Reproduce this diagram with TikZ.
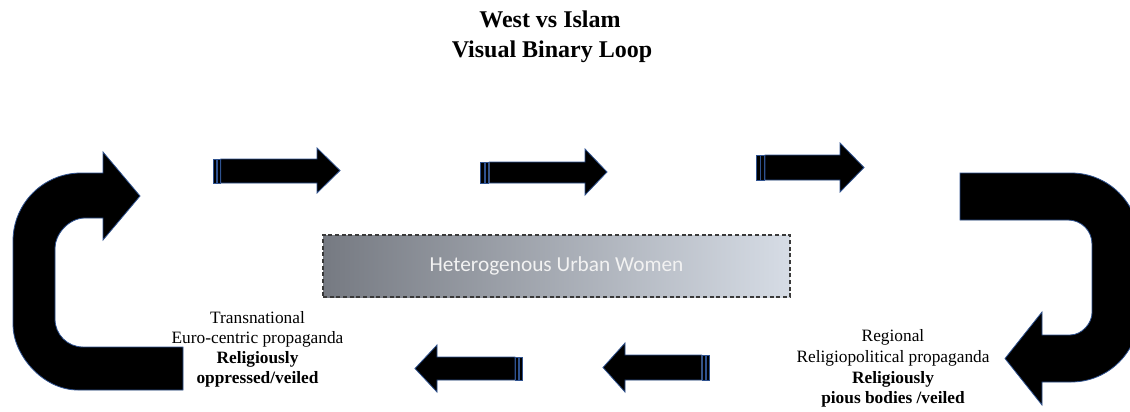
\documentclass[tikz,border=0pt]{standalone}
\usepackage{fontspec}
\setmainfont{Liberation Serif}
\newfontfamily\boxfont{Carlito}
\definecolor{arrowblue}{HTML}{2F528F}
\definecolor{hubdark}{HTML}{767A82}
\definecolor{hublight}{HTML}{D6DCE5}
\definecolor{hubedge}{HTML}{3A3A3A}
\begin{document}
\begin{tikzpicture}[x=0.75pt,y=-0.75pt,
  blockarrow/.style={fill=black, draw=arrowblue, line width=0.6pt, line join=miter},
  stripebar/.style={fill=black, draw=arrowblue, line width=0.5pt},
  lbl/.style={anchor=base, inner sep=0pt, font=\fontsize{13}{15}\selectfont},
  lblb/.style={anchor=base, inner sep=0pt, font=\fontsize{13}{15}\selectfont\bfseries},
  ttl/.style={anchor=base, inner sep=0pt, font=\fontsize{18}{22}\selectfont\bfseries},
  hubbox/.style={draw=hubedge, line width=0.8pt, dash pattern=on 3pt off 2pt,
    left color=hubdark, right color=hublight, text=white!95!black,
    font=\boxfont\fontsize{16}{19}\selectfont,
    minimum width=350.25pt, minimum height=46.5pt, inner sep=0pt}
]
% canvas
\fill[white] (0,0) rectangle (1130,411);
\useasboundingbox (0,0) rectangle (1130,411);
\clip (0,0) rectangle (1130,411);

% title
\node[ttl] (title1) at (550,27) {West vs Islam};
\node[ttl] (title2) at (552,57) {Visual Binary Loop};

% left U-turn arrow (bottom back up to the top row)
\draw[blockarrow]
  (183,390) -- (78,390)
  .. controls (42.1,390) and (13,354.1) .. (13,325)
  -- (13,241)
  .. controls (13,203.4) and (43.4,173) .. (81,173)
  -- (103,173) -- (103,152) -- (140,196) -- (103,240) -- (103,218)
  -- (85,218)
  .. controls (68.4,218) and (55,234.6) .. (55,248)
  -- (55,319)
  .. controls (55,334.5) and (67.5,347) .. (83,347)
  -- (183,347) -- cycle;

% right U-turn arrow (top row down to the bottom row)
\draw[blockarrow]
  (960,173) -- (1071,173)
  .. controls (1108.6,173) and (1139,203.4) .. (1139,241)
  -- (1139,314)
  .. controls (1139,351.6) and (1108.6,382) .. (1071,382)
  -- (1042,382) -- (1042,405) -- (1005,358.5) -- (1042,312) -- (1042,335)
  -- (1070,335)
  .. controls (1082.2,335) and (1092,322.8) .. (1092,313)
  -- (1092,244)
  .. controls (1092,230.7) and (1081.3,220) .. (1068,220)
  -- (960,220) -- cycle;

% top row, striped arrows pointing right
\draw[blockarrow] (220.7,159) -- (317,159) -- (317,148) -- (340,170.5) -- (317,193) -- (317,183) -- (220.7,183) -- cycle;
\draw[stripebar] (213.3,159) rectangle (216.7,183);
\draw[stripebar] (217.3,159) rectangle (220,183);

\draw[blockarrow] (489.3,162) -- (585,162) -- (585,149) -- (607,172) -- (585,195) -- (585,183) -- (489.3,183) -- cycle;
\draw[stripebar] (480.7,162) rectangle (484,183);
\draw[stripebar] (485,162) rectangle (488.3,183);

\draw[blockarrow] (765,155) -- (840,155) -- (840,143) -- (864,167.5) -- (840,192) -- (840,180) -- (765,180) -- cycle;
\draw[stripebar] (756.7,155) rectangle (760,180);
\draw[stripebar] (760.7,155) rectangle (764,180);

% bottom row, striped arrows pointing left
\draw[blockarrow] (515,357) -- (437,357) -- (437,345) -- (415,368.5) -- (437,392) -- (437,380) -- (515,380) -- cycle;
\draw[stripebar] (515.7,357) rectangle (518,380);
\draw[stripebar] (519,357) rectangle (522,380);

\draw[blockarrow] (701.7,355) -- (625,355) -- (625,343) -- (603,367.5) -- (625,392) -- (625,380) -- (701.7,380) -- cycle;
\draw[stripebar] (702.3,355) rectangle (705,380);
\draw[stripebar] (706,355) rectangle (709.3,380);

% central box
\node[hubbox] (hub) at (556.5,266) {Heterogenous Urban Women};

% left caption
\node[lbl]  (lt1) at (257.5,323) {Transnational};
\node[lbl]  (lt2) at (257.5,343) {Euro-centric propaganda};
\node[lblb] (lt3) at (257.5,363) {Religiously};
\node[lblb] (lt4) at (257.5,383) {oppressed/veiled};

% right caption
\node[lbl]  (rt1) at (893,341) {Regional};
\node[lbl]  (rt2) at (893,362) {Religiopolitical propaganda};
\node[lblb] (rt3) at (893,383) {Religiously};
\node[lblb] (rt4) at (893,403) {pious bodies /veiled};
\end{tikzpicture}
\end{document}
